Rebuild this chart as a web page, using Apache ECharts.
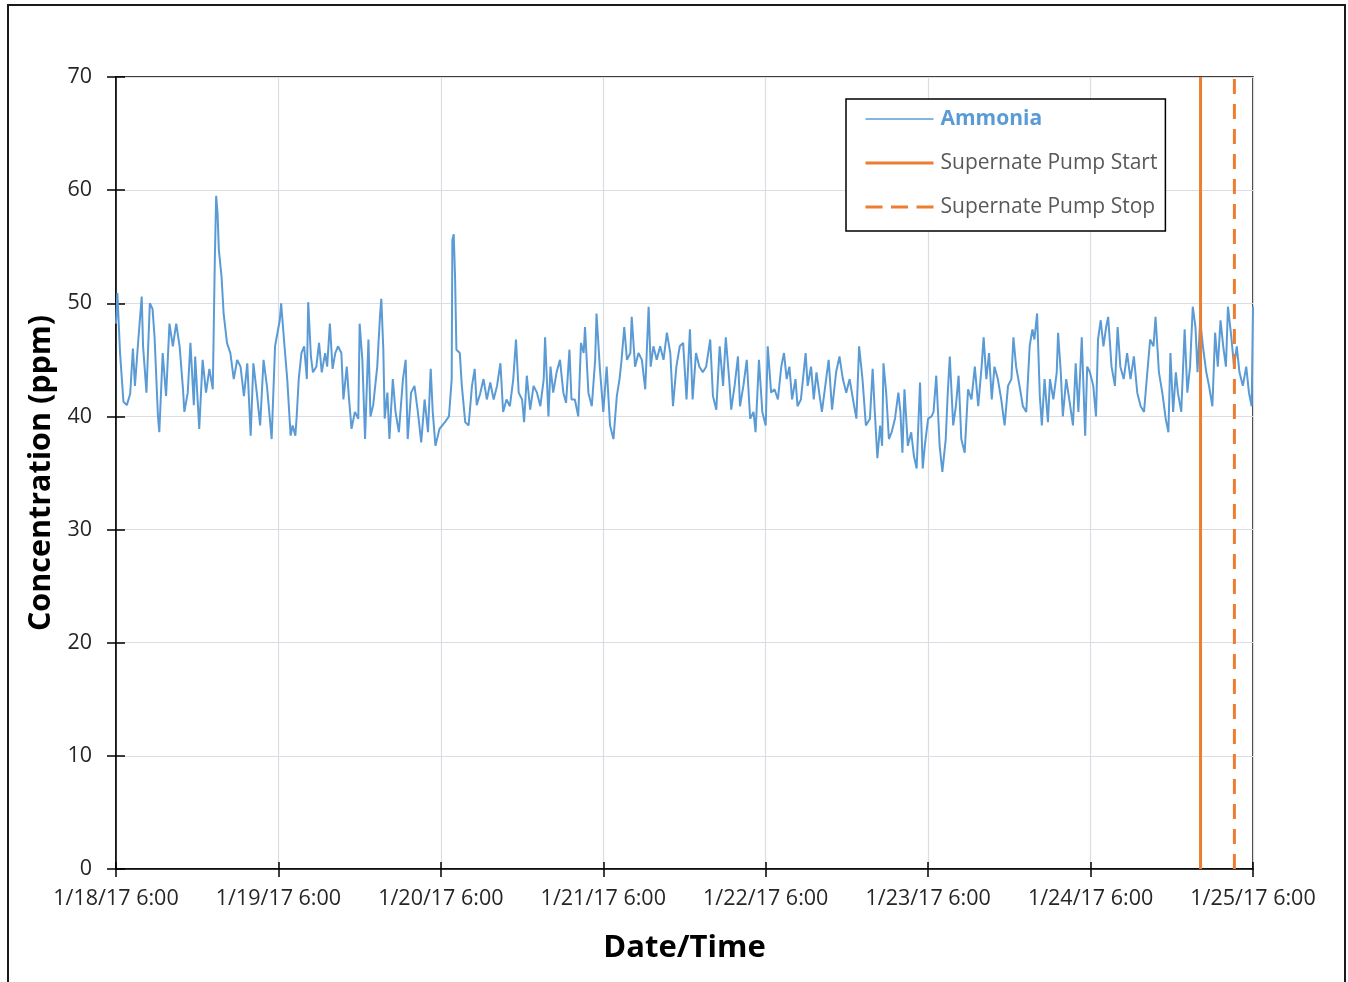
<!DOCTYPE html>
<html>
<head>
<meta charset="utf-8">
<script src="https://cdn.jsdelivr.net/npm/echarts@6/dist/echarts.min.js"></script>
<style>
html,body{margin:0;padding:0;background:#fff;}
#chart{width:1348px;height:982px;}
</style>
</head>
<body>
<div id="chart"></div>
<script>
// Hours after 1/18/17 6:00, ammonia concentration (ppm)
const ammoniaDay1 = [[0,48.2],[0.2,50.9],[0.6,45.6],[1.1,41.3],[1.6,41],[2.1,42],[2.5,46],[2.8,42.7],[3.3,46.8],[3.8,50.6],[4,46.2],[4.5,42.1],[5,50],[5.4,49.5],[5.7,47],[6.2,40],[6.4,38.6],[6.9,45.6],[7.4,41.8],[7.9,48.2],[8.4,46.2],[8.9,48.2],[9.4,46.2],[9.9,42.4],[10.1,40.4],[10.6,42.1],[11,46.5],[11.5,41],[11.7,45.3],[12.3,38.9],[12.8,45],[13.3,42.1],[13.8,44.2],[14.3,42.4],[14.6,53.8],[14.8,59.5],[15,58],[15.2,54.7],[15.6,52.3],[15.9,49.1],[16.4,46.5],[16.9,45.6],[17.4,43.3],[17.9,45],[18.4,44.4],[18.9,41.8],[19.4,44.7],[19.9,38.3],[20.3,44.7],[20.8,42.1],[21.3,39.2],[21.8,45],[22.3,42.7],[23,38],[23.5,46.2]];
const ammoniaDay2 = [[24.2,48.5],[24.4,50],[24.9,46.2],[25.3,43.3],[25.8,38.3],[26.1,39.2],[26.5,38.3],[26.7,40],[27,43.3],[27.4,45.6],[27.8,46.2],[28.2,43.3],[28.4,50.1],[28.8,45.3],[29.1,43.9],[29.6,44.4],[30,46.5],[30.4,43.9],[30.9,45.6],[31.2,44.4],[31.6,48.2],[32,44.2],[32.4,45.6],[32.8,46.2],[33.3,45.6],[33.6,41.5],[34.1,44.4],[34.4,41.8],[34.8,38.9],[35.3,40.4],[35.8,39.8],[36,48.2],[36.4,45],[36.8,38],[37.3,46.8],[37.6,40],[38,41],[38.6,44.4],[39,48.8],[39.2,50.4],[39.5,45.9],[39.7,39.8],[40.1,42.1],[40.4,38],[40.9,43.3],[41.3,40.4],[41.8,38.6],[42.4,43.3],[42.8,45],[43.1,38],[43.6,42.1],[44.1,42.7],[44.6,40.4],[45.1,37.7],[45.6,41.5],[46.1,38.6],[46.5,44.2],[46.8,40.4],[47.2,37.4],[47.8,38.9]];
const ammoniaDay3 = [[48.6,39.5],[49.2,40],[49.6,43.3],[49.7,55.6],[49.9,56.1],[50.1,52.3],[50.3,45.9],[50.8,45.6],[51.1,42.7],[51.6,39.5],[52.1,39.2],[52.6,42.7],[53,44.2],[53.3,41],[53.8,42],[54.3,43.3],[54.8,41.5],[55.3,43],[55.8,41.5],[56.3,42.7],[56.8,44.7],[57.2,40.4],[57.7,41.5],[58.2,40.9],[58.7,43.3],[59.1,46.8],[59.5,42.1],[60,41.5],[60.3,39.5],[60.7,43.6],[61.2,40.6],[61.7,42.7],[62.2,42.1],[62.7,40.9],[63.2,43.3],[63.4,47],[63.9,40],[64.2,44.4],[64.6,42.1],[65.1,43.9],[65.6,45],[66.1,42.1],[66.5,41.2],[67,45.9],[67.3,41.5],[67.8,41.5],[68.3,40],[68.7,46.5],[69.1,45.6],[69.3,47.9],[69.8,42.1],[70.3,40.9],[70.8,45],[71,49.1],[71.5,44.2]];
const ammoniaDay4 = [[72,40.4],[72.5,44.4],[73,39.2],[73.5,38],[74,41.8],[74.4,43.3],[74.7,45],[75.1,47.9],[75.5,45],[76,45.6],[76.2,48.8],[76.7,44.4],[77.2,45.6],[77.7,45],[78.2,42.4],[78.7,49.7],[79,44.4],[79.4,46.2],[79.9,45],[80.4,46.2],[80.9,45],[81.4,47.4],[81.9,45.6],[82.3,40.9],[82.8,44.4],[83.3,46.2],[83.8,46.5],[84.3,41.5],[84.8,47.7],[85.2,41.5],[85.7,45.6],[86.2,44.4],[86.7,43.9],[87.2,44.4],[87.8,46.8],[88.2,41.8],[88.7,40.6],[89.2,46.2],[89.7,42.7],[90.1,47],[90.6,43.3],[90.9,40.6],[91.4,42.7],[91.9,45.3],[92.2,40.9],[92.7,42.7],[93.2,45],[93.7,39.8],[94.2,40.4],[94.5,38.6],[95,45],[95.5,40.4]];
const ammoniaDay5 = [[96,39.2],[96.3,46.2],[96.8,42.1],[97.3,42.4],[97.8,41.5],[98.3,44.4],[98.7,45.6],[99.1,43.3],[99.5,44.4],[99.9,41.5],[100.4,43.3],[100.7,40.9],[101.2,41.5],[101.9,45.6],[102.2,42.7],[102.7,44.4],[103.1,41.5],[103.5,43.9],[103.9,42.1],[104.3,40.4],[104.8,42.7],[105.3,45],[105.8,40.6],[106.4,43.9],[106.9,45.3],[107.4,43.3],[107.9,42.1],[108.4,43.3],[108.9,41.5],[109.4,39.8],[109.8,46.2],[110.3,43.3],[110.8,39.2],[111.4,39.8],[111.8,44.2],[112.1,40.6],[112.5,36.3],[112.9,39.2],[113.2,37.4],[113.4,44.7],[113.8,42.1],[114.2,38],[114.6,38.6],[115.1,39.8],[115.6,42.1],[115.9,40.4],[116.2,36.8],[116.5,42.4],[117,37.4],[117.5,38.6],[117.9,36.5],[118.3,35.4],[118.8,43],[119.2,35.4],[119.5,37.4]];
const ammoniaDay6 = [[120,39.8],[120.5,40],[120.8,40.4],[121.2,43.6],[121.7,37.4],[122.1,35.1],[122.6,38],[122.9,42.1],[123.2,45.3],[123.7,39.2],[124.1,40.9],[124.5,43.6],[124.9,38],[125.4,36.8],[125.9,42.4],[126.4,41.5],[126.9,44.4],[127.4,40.9],[127.9,44.4],[128.2,47],[128.6,43.3],[129,45.6],[129.4,41.5],[129.8,44.4],[130.3,43.3],[130.8,41.5],[131.3,39.2],[131.8,42.7],[132.3,43.3],[132.6,47],[133,44.4],[133.5,42.7],[134,40.9],[134.5,40.4],[135,46.2],[135.4,47.7],[135.7,46.8],[136.1,49.1],[136.5,41.8],[136.8,39.2],[137.2,43.3],[137.7,39.5],[138,43.3],[138.5,41.5],[139,43.9],[139.2,47.4],[139.6,43.9],[139.9,40],[140.4,43.3],[140.7,42.1],[141,40.9],[141.4,39.2],[141.8,44.7],[142.2,40.4],[142.7,47],[143.2,38.3],[143.5,44.4],[143.9,43.9]];
const ammoniaDay7 = [[144.4,42.7],[144.8,40],[145.1,46.8],[145.5,48.5],[145.9,46.2],[146.3,47.9],[146.6,48.8],[147.1,44.4],[147.6,42.7],[148,47.9],[148.4,44.4],[148.9,43.3],[149.4,45.6],[149.9,43.3],[150.4,45.3],[150.9,42.1],[151.4,40.9],[151.9,40.4],[152.3,43.3],[152.8,46.8],[153.3,46.2],[153.6,48.8],[154.1,43.9],[154.6,42.1],[155.1,39.8],[155.5,38.6],[155.8,45.6],[156.2,40.4],[156.6,43.9],[156.9,42.1],[157.4,40.4],[157.9,47.7],[158.3,42.1],[158.7,44.4],[159.1,49.7],[159.5,47.9],[159.8,43.9],[160.2,48.5],[160.6,46.2],[161.1,43.9],[161.5,42.7],[162,40.9],[162.4,47.4],[162.8,44.4],[163.2,48.5],[163.6,46.2],[164,44.4],[164.3,49.7],[164.8,47],[165.2,44.4],[165.6,46.2],[166,43.9],[166.5,42.7],[167,44.4],[167.4,42.1],[167.8,40.9],[168,49.7]];

// Pump events (hours after 1/18/17 6:00)
const pumpStartHour = 160.25;
const pumpStopHour = 165.25;

// Axis ticks
const xTickLabels = ['1/18/17 6:00','1/19/17 6:00','1/20/17 6:00','1/21/17 6:00','1/22/17 6:00','1/23/17 6:00','1/24/17 6:00','1/25/17 6:00'];
const yMin = 0, yMax = 70, yStep = 10;
const xStepHours = 24;

const ammonia = [].concat(ammoniaDay1, ammoniaDay2, ammoniaDay3, ammoniaDay4, ammoniaDay5, ammoniaDay6, ammoniaDay7);

const FONT = 'Open Sans';
const chart = echarts.init(document.getElementById('chart'), null, {renderer:'canvas', width:1348, height:982});

const xMax = xStepHours * (xTickLabels.length - 1);
const baseX = {type:'value', min:0, max:xMax, interval:xStepHours, position:'bottom'};
const baseY = {type:'value', min:yMin, max:yMax, interval:yStep, position:'left'};

chart.setOption({
  animation:false,
  backgroundColor:'#fff',
  textStyle:{fontFamily:FONT},
  graphic:[{
    type:'rect', z:-1,
    shape:{x:8, y:5, width:1337, height:1000},
    style:{fill:'none', stroke:'#1a1a1a', lineWidth:2}
  }],
  grid:{left:116, right:95, top:77, bottom:113, show:true, borderColor:'#000', borderWidth:1.5, backgroundColor:'transparent'},
  legend:{
    orient:'vertical', left:846, top:99,
    backgroundColor:'#fff', borderColor:'#000', borderWidth:1.5,
    padding:[8, 8, 12, 18],
    itemWidth:68, itemHeight:14, itemGap:20,
    itemStyle:{opacity:0},
    textStyle:{fontFamily:FONT, fontSize:21, color:'#595959', lineHeight:24, padding:[0,0,0,2]},
    data:[
      {name:'Ammonia', textStyle:{color:'#5b9bd5', fontWeight:'bold'}, itemStyle:{opacity:0}, lineStyle:{width:1.5}},
      {name:'Supernate Pump Start', itemStyle:{opacity:0}, lineStyle:{width:3}},
      {name:'Supernate Pump Stop', itemStyle:{opacity:0}, lineStyle:{width:3, type:[17, 8.5]}}
    ]
  },
  xAxis:[
    Object.assign({}, baseX, {
      name:'Date/Time', nameLocation:'middle', nameGap:64,
      nameTextStyle:{fontFamily:FONT, fontSize:31, fontWeight:'bold', color:'#000'},
      axisLine:{show:true, lineStyle:{color:'#000', width:1.5}},
      axisTick:{show:true, inside:false, length:8, lineStyle:{color:'#000', width:1.5}},
      axisLabel:{show:true, margin:19, fontFamily:FONT, fontSize:21.5, color:'#262626',
        formatter:function(v){ return xTickLabels[Math.round(v / xStepHours)]; }},
      splitLine:{show:true, lineStyle:{color:'#dadde3', width:1.2}}
    }),
    Object.assign({}, baseX, {
      axisLine:{show:false},
      axisTick:{show:true, inside:true, length:7, lineStyle:{color:'#000', width:1.5}},
      axisLabel:{show:false}, splitLine:{show:false}
    })
  ],
  yAxis:[
    Object.assign({}, baseY, {
      name:'Concentration (ppm)', nameLocation:'middle', nameGap:49, nameRotate:90,
      nameTextStyle:{fontFamily:FONT, fontSize:30.5, fontWeight:'bold', color:'#000'},
      axisLine:{show:true, lineStyle:{color:'#000', width:1.5}},
      axisTick:{show:true, inside:false, length:9, lineStyle:{color:'#000', width:1.5}},
      axisLabel:{show:true, margin:24, fontFamily:FONT, fontSize:21.5, color:'#262626'},
      splitLine:{show:true, lineStyle:{color:'#dadde3', width:1.2}}
    }),
    Object.assign({}, baseY, {
      axisLine:{show:false},
      axisTick:{show:true, inside:true, length:9, lineStyle:{color:'#000', width:1.5}},
      axisLabel:{show:false}, splitLine:{show:false}
    })
  ],
  series:[
    {
      name:'Ammonia', type:'line', data:ammonia, xAxisIndex:0, yAxisIndex:0,
      symbol:'none', showSymbol:false, smooth:false,
      lineStyle:{color:'#5b9bd5', width:2}, itemStyle:{color:'#5b9bd5'}
    },
    {
      name:'Supernate Pump Start', type:'line', xAxisIndex:0, yAxisIndex:0,
      data:[[pumpStartHour, yMin],[pumpStartHour, yMax]],
      symbol:'none', showSymbol:false,
      lineStyle:{color:'#ed7d31', width:3}, itemStyle:{color:'#ed7d31'}
    },
    {
      name:'Supernate Pump Stop', type:'line', xAxisIndex:0, yAxisIndex:0,
      data:[[pumpStopHour, yMin],[pumpStopHour, yMax]],
      symbol:'none', showSymbol:false,
      lineStyle:{color:'#ed7d31', width:3, type:[15, 10]}, itemStyle:{color:'#ed7d31'}
    }
  ]
});
</script>
</body>
</html>
